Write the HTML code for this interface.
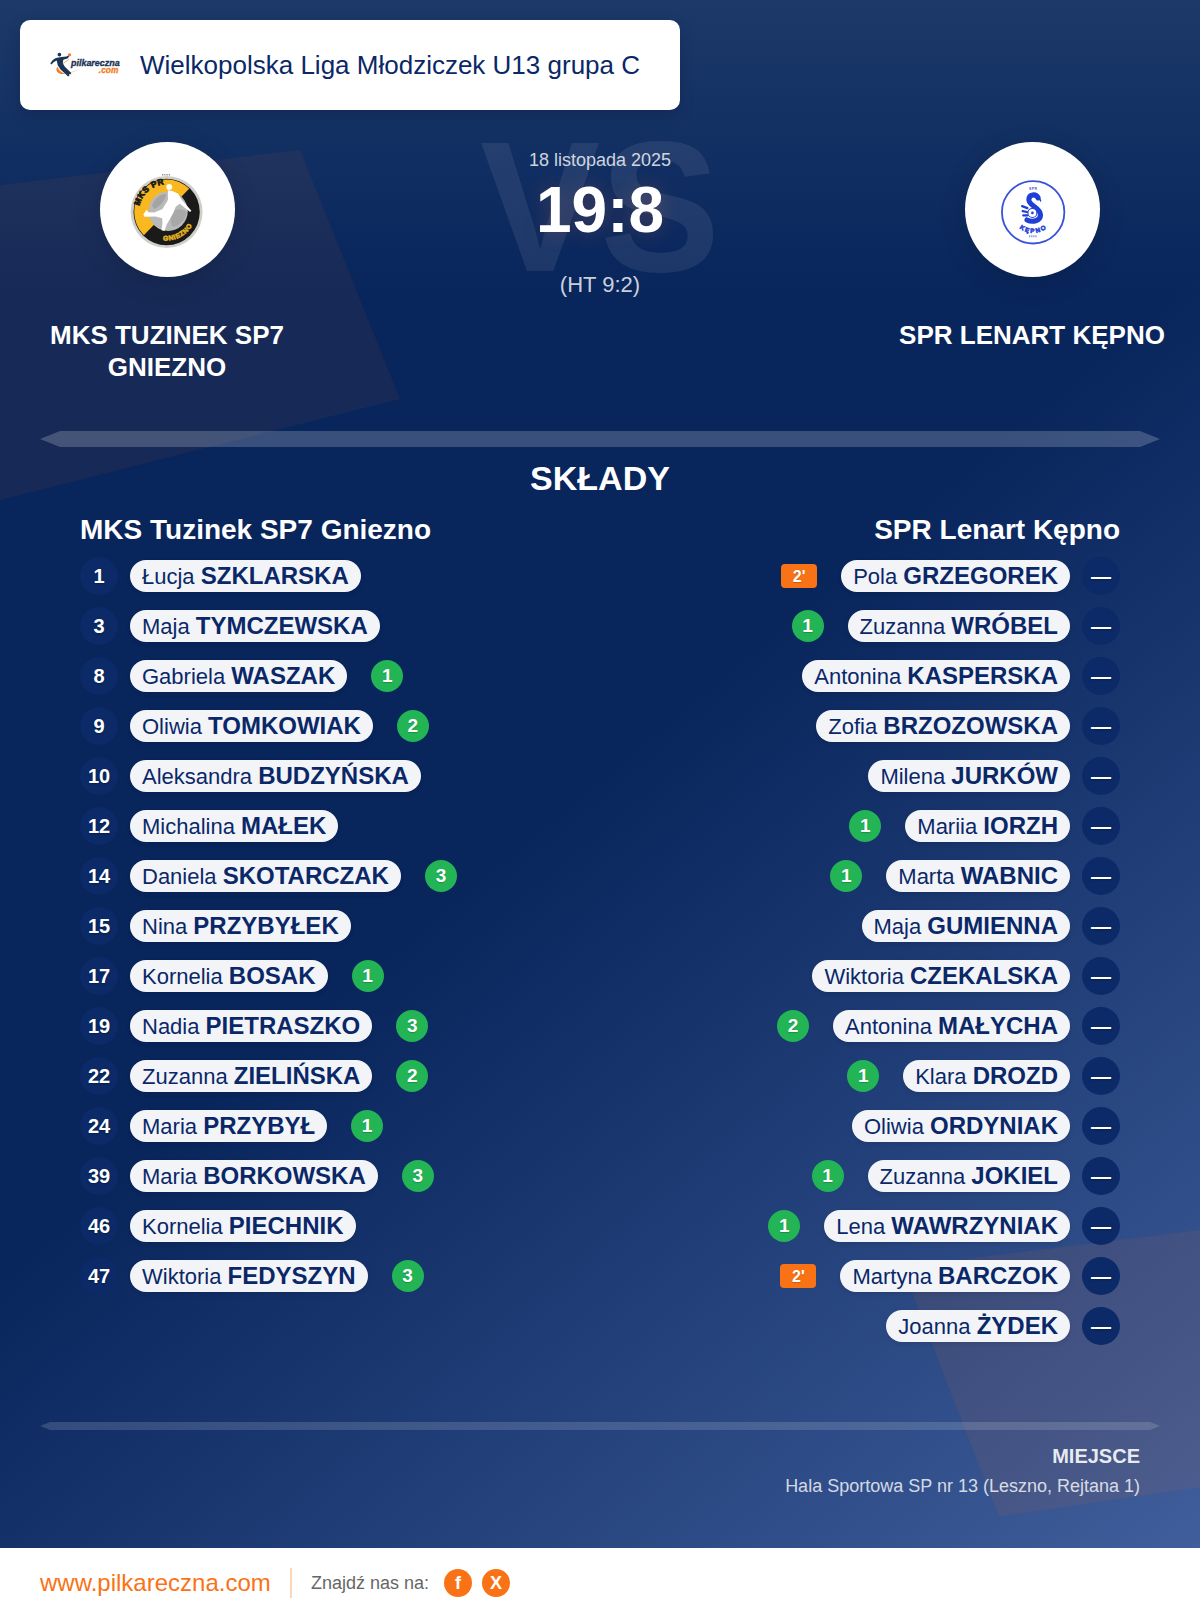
<!DOCTYPE html>
<html lang="pl">
<head>
<meta charset="utf-8">
<title>MKS Tuzinek SP7 Gniezno – SPR Lenart Kępno 19:8</title>
<style>
*{box-sizing:border-box;margin:0;padding:0}
html,body{width:1200px;height:1618px;overflow:hidden}
body{font-family:"Liberation Sans",Arial,sans-serif;color:#fff;background:#08255c;position:relative}
#page{position:absolute;left:0;top:0;width:1200px;height:1618px;overflow:hidden;
 background:linear-gradient(180deg,#1c3969 0px,#08255c 300px,#08255c 1618px)}
#page .glow{position:absolute;left:0;top:0;width:1200px;height:1548px;
 background:linear-gradient(140deg,rgba(64,94,155,0) 50%,rgba(64,94,155,1) 100%)}
svg.shapes{position:absolute;left:0;top:0;width:1200px;height:1548px}
.abs{position:absolute;white-space:nowrap}
.card{position:absolute;left:20px;top:20px;width:660px;height:90px;background:#fff;border-radius:10px;box-shadow:0 5px 15px rgba(0,0,0,.15)}
.title{left:140px;top:50px;font-size:26px;line-height:30px;color:#0a2868}
.vs{left:0;width:1200px;text-align:center;top:103px;font-size:180px;line-height:207px;font-weight:bold;color:rgba(255,255,255,.08);transform:scaleY(1.028);transform-origin:50% 50%}
.date{left:0;width:1200px;text-align:center;top:149px;font-size:18px;line-height:22px;color:rgba(255,255,255,.8)}
.score{left:0;width:1200px;text-align:center;top:172px;font-size:64px;line-height:76px;font-weight:bold;text-shadow:0 0 20px rgba(235,125,80,.24)}
.ht{left:0;width:1200px;text-align:center;top:272px;font-size:22px;line-height:26px;color:rgba(255,255,255,.8)}
.crest{position:absolute;top:142px;width:135px;height:135px;border-radius:50%;background:#fff;box-shadow:0 6px 26px rgba(0,0,0,.16)}

.tname{position:absolute;top:319px;width:320px;text-align:center;font-size:26px;line-height:32px;font-weight:bold}
.h2{left:0;width:1200px;text-align:center;top:458px;font-size:34px;line-height:40px;font-weight:bold}
.th{top:514px;font-size:28px;line-height:32px;font-weight:bold}
.col{position:absolute;top:551px;width:520px}
.colL{left:80px}
.colR{right:80px}
.row{height:50px;display:flex;align-items:center;white-space:nowrap}
.colR .row{flex-direction:row-reverse}
.num{flex:none;width:38px;height:38px;border-radius:50%;background:#0b2a67;text-shadow:0 1px 2px rgba(0,0,0,.3);font-size:20px;line-height:38px;font-weight:bold;text-align:center;color:#fff}
.pill{flex:none;height:32px;border-radius:16px;background:#f3f4f8;color:#0a2868;font-size:22px;line-height:32px;padding:0 12px;margin:0 12px;box-shadow:0 2px 4px rgba(0,0,0,.1)}
.pill b{font-weight:bold;font-size:24px}
.g{flex:none;width:32px;height:32px;border-radius:50%;background:#22b455;text-shadow:0 1px 1px rgba(0,0,0,.2);font-size:19px;line-height:32px;font-weight:bold;text-align:center;margin:0 12px}
.p{flex:none;width:36px;height:24px;border-radius:4px;background:#f97316;text-shadow:0 1px 1px rgba(0,0,0,.2);font-size:16px;line-height:25px;font-weight:bold;text-align:center;margin:0 12px}
.foot{position:absolute;left:0;top:1548px;width:1200px;height:70px;background:#fff}
.www{left:40px;top:1569px;font-size:24px;line-height:28px;color:#f97316}
.vsep{position:absolute;left:290px;top:1568px;width:2px;height:30px;background:rgba(249,115,22,.3)}
.find{left:311px;top:1572px;font-size:18px;line-height:22px;color:#666}
.soc{position:absolute;top:1569px;width:28px;height:28px;border-radius:50%;background:#f97316;color:#fff;font-size:18px;line-height:29px;font-weight:bold;text-align:center}
.place{right:60px;top:1444px;font-size:20px;line-height:24px;font-weight:bold;color:rgba(255,255,255,.9)}
.venue{right:60px;top:1475px;font-size:18px;line-height:22px;color:rgba(255,255,255,.8)}
</style>
</head>
<body>
<div id="page">
<div class="glow"></div>
<svg class="shapes" viewBox="0 0 1200 1548">
<polygon points="0,185 300,150 400,399 0,500" fill="rgba(249,115,22,0.06)"/>
<polygon points="902,1267 1200,1230 1200,1487 999,1516.5" fill="rgba(249,115,22,0.08)"/>
<polygon points="40,439 60,431 1140,431 1160,439 1140,447 60,447" fill="rgba(255,255,255,0.2)"/>
<polygon points="40,1426 50,1422 1150,1422 1160,1426 1150,1430 50,1430" fill="rgba(255,255,255,0.15)"/>
</svg>
<div class="abs vs">VS</div>
<div class="card"></div>
<svg class="logo" viewBox="0 0 1200 514" style="position:absolute;left:44px;top:46px;width:84px;height:36px;overflow:visible">
<path d="M192,296 C150,350 200,412 305,400 C250,378 212,350 192,296 Z" fill="#f47b20"/>
<path d="M268,252 L352,193" stroke="#f47b20" stroke-width="9" stroke-linecap="round" fill="none"/>
<path d="M392,376 L468,347" stroke="#f9a868" stroke-width="7" stroke-linecap="round" fill="none"/>
<circle cx="365" cy="126" r="23" fill="#f47b20"/>
<circle cx="220" cy="124" r="26" fill="#1b3355"/>
<path d="M186,166 L250,158 L322,150 L345,136 L358,152 L336,180 L276,198 L268,248 L298,298 L390,384 L378,406 L356,396 L364,420 L346,434 L236,336 L196,274 L182,206 L142,230 L106,264 L90,250 L122,202 L162,174 Z" fill="#1b3355"/>
<text x="386" y="280" font-family="'Liberation Sans',Arial,sans-serif" font-weight="bold" font-style="italic" font-size="128" fill="#1b3355" stroke="#1b3355" stroke-width="5" textLength="695" lengthAdjust="spacingAndGlyphs">pilkareczna</text>
<text x="784" y="385" font-family="'Liberation Sans',Arial,sans-serif" font-weight="bold" font-style="italic" font-size="118" fill="#f47b20" stroke="#f47b20" stroke-width="4" textLength="278" lengthAdjust="spacingAndGlyphs">.com</text>
</svg>
<div class="abs title">Wielkopolska Liga Młodziczek U13 grupa C</div>
<div class="crest" style="left:100px"></div>
<svg viewBox="0 0 1200 1200" style="position:absolute;left:122px;top:164px;width:90px;height:90px;overflow:visible">
<defs>
<clipPath id="cl1"><circle cx="595" cy="640" r="432"/></clipPath>
<path id="arcT" d="M232,560 A372,372 0 0 1 560,272"/>
<path id="arcB" d="M548,1018 A388,388 0 0 0 982,640"/>
</defs>
<circle cx="595" cy="640" r="480" fill="#cfcfca"/>
<circle cx="595" cy="640" r="442" fill="#1a1a1a"/>
<g clip-path="url(#cl1)">
<rect x="100" y="150" width="1000" height="1000" fill="#1a1a1a"/>
<polygon points="100,150 1070,150 310,930 100,1150" fill="#f9b81f"/>
</g>
<circle cx="615" cy="630" r="262" fill="#b9b9b9"/>
<path d="M400,560 C430,450 520,400 590,400 C570,480 520,560 430,600 Z" fill="#a4a4a4"/>
<path d="M660,640 C720,590 800,590 860,640 C850,740 780,820 680,840 C640,780 640,700 660,640 Z" fill="#a8a8a8"/>
<circle cx="630" cy="305" r="40" fill="#fffef0"/>
<path d="M612,350 L680,362 L750,395 L790,470 L925,622 L908,640 L770,530 L718,565 L690,640 L645,722 L598,802 L566,892 L526,882 L540,782 L535,722 L450,700 L300,704 L284,670 L330,610 L352,642 L430,645 L540,600 L612,480 Z" fill="#fff"/>
<text font-family="'Liberation Sans',Arial,sans-serif" font-weight="bold" font-size="112" fill="#1a1a1a" stroke="#1a1a1a" stroke-width="10" letter-spacing="6"><textPath href="#arcT" startOffset="0">MKS PR</textPath></text>
<text font-family="'Liberation Sans',Arial,sans-serif" font-weight="bold" font-size="90" fill="#e0b21e" stroke="#e0b21e" stroke-width="8" letter-spacing="8"><textPath href="#arcB" startOffset="0">GNIEZNO</textPath></text>
<path d="M542,132v22M572,132v22M602,132v22M632,132v22" stroke="#555" stroke-width="16" opacity=".7" fill="none"/>
</svg>
<div class="crest" style="left:965px"></div>
<svg viewBox="0 0 1200 1200" style="position:absolute;left:988px;top:167px;width:90px;height:90px;overflow:visible">
<defs><path id="arcK" d="M380,772 A280,280 0 0 0 824,772"/></defs>
<circle cx="602" cy="604" r="416" fill="none" stroke="#3a52d9" stroke-width="24"/>
<text x="602" y="308" text-anchor="middle" font-family="'Liberation Sans',Arial,sans-serif" font-weight="bold" font-size="46" fill="#3a52d9" letter-spacing="6">SPR</text>
<path d="M668,412 C640,352 545,358 545,438 C545,520 700,540 700,640 C700,722 590,742 520,706" fill="none" stroke="#1f3fd6" stroke-width="68" stroke-linecap="round"/>
<path d="M660,390 L712,440 L700,470 Z" fill="#1f3fd6"/>
<circle cx="592" cy="612" r="60" fill="#fff" stroke="#1f3fd6" stroke-width="14"/>
<circle cx="592" cy="612" r="18" fill="#1f3fd6"/>
<path d="M455,522 L525,548 M462,588 L520,600 M470,645 L522,645" stroke="#1f3fd6" stroke-width="30" stroke-linecap="round" fill="none"/>
<text font-family="'Liberation Sans',Arial,sans-serif" font-weight="bold" font-size="84" fill="#2a46d8" stroke="#2a46d8" stroke-width="8" letter-spacing="22" text-anchor="middle"><textPath href="#arcK" startOffset="51%">KĘPNO</textPath></text>
<path d="M556,910v26M584,910v26M612,910v26M640,910v26" stroke="#3a52d9" stroke-width="16" opacity=".65" fill="none"/>
</svg>
<div class="abs date">18 listopada 2025</div>
<div class="abs score">19:8</div>
<div class="abs ht">(HT 9:2)</div>
<div class="tname" style="left:7px">MKS TUZINEK SP7 GNIEZNO</div>
<div class="tname" style="left:872px">SPR LENART KĘPNO</div>
<div class="abs h2">SKŁADY</div>
<div class="abs th" style="left:80px">MKS Tuzinek SP7 Gniezno</div>
<div class="abs th" style="right:80px">SPR Lenart Kępno</div>
<div class="col colL">
<div class="row"><span class="num">1</span><span class="pill">Łucja <b>SZKLARSKA</b></span></div>
<div class="row"><span class="num">3</span><span class="pill">Maja <b>TYMCZEWSKA</b></span></div>
<div class="row"><span class="num">8</span><span class="pill">Gabriela <b>WASZAK</b></span><span class="g">1</span></div>
<div class="row"><span class="num">9</span><span class="pill">Oliwia <b>TOMKOWIAK</b></span><span class="g">2</span></div>
<div class="row"><span class="num">10</span><span class="pill">Aleksandra <b>BUDZYŃSKA</b></span></div>
<div class="row"><span class="num">12</span><span class="pill">Michalina <b>MAŁEK</b></span></div>
<div class="row"><span class="num">14</span><span class="pill">Daniela <b>SKOTARCZAK</b></span><span class="g">3</span></div>
<div class="row"><span class="num">15</span><span class="pill">Nina <b>PRZYBYŁEK</b></span></div>
<div class="row"><span class="num">17</span><span class="pill">Kornelia <b>BOSAK</b></span><span class="g">1</span></div>
<div class="row"><span class="num">19</span><span class="pill">Nadia <b>PIETRASZKO</b></span><span class="g">3</span></div>
<div class="row"><span class="num">22</span><span class="pill">Zuzanna <b>ZIELIŃSKA</b></span><span class="g">2</span></div>
<div class="row"><span class="num">24</span><span class="pill">Maria <b>PRZYBYŁ</b></span><span class="g">1</span></div>
<div class="row"><span class="num">39</span><span class="pill">Maria <b>BORKOWSKA</b></span><span class="g">3</span></div>
<div class="row"><span class="num">46</span><span class="pill">Kornelia <b>PIECHNIK</b></span></div>
<div class="row"><span class="num">47</span><span class="pill">Wiktoria <b>FEDYSZYN</b></span><span class="g">3</span></div>
</div>
<div class="col colR">
<div class="row"><span class="num">—</span><span class="pill">Pola <b>GRZEGOREK</b></span><span class="p">2'</span></div>
<div class="row"><span class="num">—</span><span class="pill">Zuzanna <b>WRÓBEL</b></span><span class="g">1</span></div>
<div class="row"><span class="num">—</span><span class="pill">Antonina <b>KASPERSKA</b></span></div>
<div class="row"><span class="num">—</span><span class="pill">Zofia <b>BRZOZOWSKA</b></span></div>
<div class="row"><span class="num">—</span><span class="pill">Milena <b>JURKÓW</b></span></div>
<div class="row"><span class="num">—</span><span class="pill">Mariia <b>IORZH</b></span><span class="g">1</span></div>
<div class="row"><span class="num">—</span><span class="pill">Marta <b>WABNIC</b></span><span class="g">1</span></div>
<div class="row"><span class="num">—</span><span class="pill">Maja <b>GUMIENNA</b></span></div>
<div class="row"><span class="num">—</span><span class="pill">Wiktoria <b>CZEKALSKA</b></span></div>
<div class="row"><span class="num">—</span><span class="pill">Antonina <b>MAŁYCHA</b></span><span class="g">2</span></div>
<div class="row"><span class="num">—</span><span class="pill">Klara <b>DROZD</b></span><span class="g">1</span></div>
<div class="row"><span class="num">—</span><span class="pill">Oliwia <b>ORDYNIAK</b></span></div>
<div class="row"><span class="num">—</span><span class="pill">Zuzanna <b>JOKIEL</b></span><span class="g">1</span></div>
<div class="row"><span class="num">—</span><span class="pill">Lena <b>WAWRZYNIAK</b></span><span class="g">1</span></div>
<div class="row"><span class="num">—</span><span class="pill">Martyna <b>BARCZOK</b></span><span class="p">2'</span></div>
<div class="row"><span class="num">—</span><span class="pill">Joanna <b>ŻYDEK</b></span></div>
</div>
<div class="abs place">MIEJSCE</div>
<div class="abs venue">Hala Sportowa SP nr 13 (Leszno, Rejtana 1)</div>
<div class="foot"></div>
<div class="abs www">www.pilkareczna.com</div>
<div class="vsep"></div>
<div class="abs find">Znajdź nas na:</div>
<div class="soc" style="left:444px">f</div>
<div class="soc" style="left:482px">X</div>
</div>
</body>
</html>
